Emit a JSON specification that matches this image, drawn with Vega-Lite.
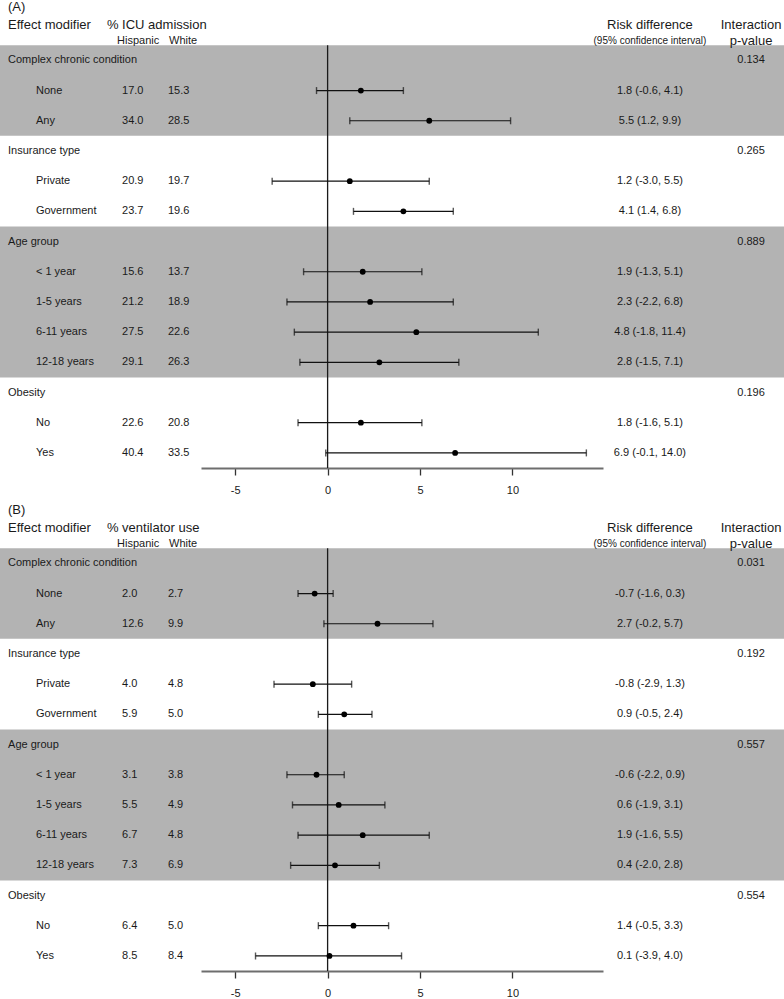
{
  "$schema": "https://vega.github.io/schema/vega-lite/v6.json",
  "padding": 0,
  "background": "white",
  "config": {
    "font": "Liberation Sans",
    "view": {"stroke": null},
    "text": {"color": "#1a1a1a", "fontSize": 11, "baseline": "middle"},
    "axis": {"grid": false}
  },
  "data": {
    "values": [
      {"panel": "A", "kind": "head", "tag": "(A)", "outcome": "% ICU admission"},
      {"panel": "A", "kind": "group", "g": 1, "r": 0, "label": "Complex chronic condition", "p": "0.134"},
      {"panel": "A", "kind": "sub", "g": 1, "r": 1, "label": "None", "hisp": "17.0", "white": "15.3", "est": 1.8, "lo": -0.6, "hi": 4.1, "rd": "1.8 (-0.6, 4.1)"},
      {"panel": "A", "kind": "sub", "g": 1, "r": 2, "label": "Any", "hisp": "34.0", "white": "28.5", "est": 5.5, "lo": 1.2, "hi": 9.9, "rd": "5.5 (1.2, 9.9)"},
      {"panel": "A", "kind": "group", "g": 2, "r": 3, "label": "Insurance type", "p": "0.265"},
      {"panel": "A", "kind": "sub", "g": 2, "r": 4, "label": "Private", "hisp": "20.9", "white": "19.7", "est": 1.2, "lo": -3.0, "hi": 5.5, "rd": "1.2 (-3.0, 5.5)"},
      {"panel": "A", "kind": "sub", "g": 2, "r": 5, "label": "Government", "hisp": "23.7", "white": "19.6", "est": 4.1, "lo": 1.4, "hi": 6.8, "rd": "4.1 (1.4, 6.8)"},
      {"panel": "A", "kind": "group", "g": 3, "r": 6, "label": "Age group", "p": "0.889"},
      {"panel": "A", "kind": "sub", "g": 3, "r": 7, "label": "< 1 year", "hisp": "15.6", "white": "13.7", "est": 1.9, "lo": -1.3, "hi": 5.1, "rd": "1.9 (-1.3, 5.1)"},
      {"panel": "A", "kind": "sub", "g": 3, "r": 8, "label": "1-5 years", "hisp": "21.2", "white": "18.9", "est": 2.3, "lo": -2.2, "hi": 6.8, "rd": "2.3 (-2.2, 6.8)"},
      {"panel": "A", "kind": "sub", "g": 3, "r": 9, "label": "6-11 years", "hisp": "27.5", "white": "22.6", "est": 4.8, "lo": -1.8, "hi": 11.4, "rd": "4.8 (-1.8, 11.4)"},
      {"panel": "A", "kind": "sub", "g": 3, "r": 10, "label": "12-18 years", "hisp": "29.1", "white": "26.3", "est": 2.8, "lo": -1.5, "hi": 7.1, "rd": "2.8 (-1.5, 7.1)"},
      {"panel": "A", "kind": "group", "g": 4, "r": 11, "label": "Obesity", "p": "0.196"},
      {"panel": "A", "kind": "sub", "g": 4, "r": 12, "label": "No", "hisp": "22.6", "white": "20.8", "est": 1.8, "lo": -1.6, "hi": 5.1, "rd": "1.8 (-1.6, 5.1)"},
      {"panel": "A", "kind": "sub", "g": 4, "r": 13, "label": "Yes", "hisp": "40.4", "white": "33.5", "est": 6.9, "lo": -0.1, "hi": 14.0, "rd": "6.9 (-0.1, 14.0)"},
      {"panel": "B", "kind": "head", "tag": "(B)", "outcome": "% ventilator use"},
      {"panel": "B", "kind": "group", "g": 1, "r": 0, "label": "Complex chronic condition", "p": "0.031"},
      {"panel": "B", "kind": "sub", "g": 1, "r": 1, "label": "None", "hisp": "2.0", "white": "2.7", "est": -0.7, "lo": -1.6, "hi": 0.3, "rd": "-0.7 (-1.6, 0.3)"},
      {"panel": "B", "kind": "sub", "g": 1, "r": 2, "label": "Any", "hisp": "12.6", "white": "9.9", "est": 2.7, "lo": -0.2, "hi": 5.7, "rd": "2.7 (-0.2, 5.7)"},
      {"panel": "B", "kind": "group", "g": 2, "r": 3, "label": "Insurance type", "p": "0.192"},
      {"panel": "B", "kind": "sub", "g": 2, "r": 4, "label": "Private", "hisp": "4.0", "white": "4.8", "est": -0.8, "lo": -2.9, "hi": 1.3, "rd": "-0.8 (-2.9, 1.3)"},
      {"panel": "B", "kind": "sub", "g": 2, "r": 5, "label": "Government", "hisp": "5.9", "white": "5.0", "est": 0.9, "lo": -0.5, "hi": 2.4, "rd": "0.9 (-0.5, 2.4)"},
      {"panel": "B", "kind": "group", "g": 3, "r": 6, "label": "Age group", "p": "0.557"},
      {"panel": "B", "kind": "sub", "g": 3, "r": 7, "label": "< 1 year", "hisp": "3.1", "white": "3.8", "est": -0.6, "lo": -2.2, "hi": 0.9, "rd": "-0.6 (-2.2, 0.9)"},
      {"panel": "B", "kind": "sub", "g": 3, "r": 8, "label": "1-5 years", "hisp": "5.5", "white": "4.9", "est": 0.6, "lo": -1.9, "hi": 3.1, "rd": "0.6 (-1.9, 3.1)"},
      {"panel": "B", "kind": "sub", "g": 3, "r": 9, "label": "6-11 years", "hisp": "6.7", "white": "4.8", "est": 1.9, "lo": -1.6, "hi": 5.5, "rd": "1.9 (-1.6, 5.5)"},
      {"panel": "B", "kind": "sub", "g": 3, "r": 10, "label": "12-18 years", "hisp": "7.3", "white": "6.9", "est": 0.4, "lo": -2.0, "hi": 2.8, "rd": "0.4 (-2.0, 2.8)"},
      {"panel": "B", "kind": "group", "g": 4, "r": 11, "label": "Obesity", "p": "0.554"},
      {"panel": "B", "kind": "sub", "g": 4, "r": 12, "label": "No", "hisp": "6.4", "white": "5.0", "est": 1.4, "lo": -0.5, "hi": 3.3, "rd": "1.4 (-0.5, 3.3)"},
      {"panel": "B", "kind": "sub", "g": 4, "r": 13, "label": "Yes", "hisp": "8.5", "white": "8.4", "est": 0.1, "lo": -3.9, "hi": 4.0, "rd": "0.1 (-3.9, 4.0)"}
    ]
  },
  "facet": {"row": {"field": "panel", "type": "nominal", "header": null}},
  "spacing": {"row": 8},
  "resolve": {"axis": {"x": "independent"}},
  "spec": {
    "width": 784,
    "height": 468,
    "layer": [
      {
        "transform": [
          {"filter": "datum.kind == 'group' || datum.kind == 'sub'"},
          {"filter": "datum.g % 2 == 1"},
          {"aggregate": [{"op": "min", "field": "r", "as": "r0"}, {"op": "max", "field": "r", "as": "r1"}], "groupby": ["panel", "g"]},
          {"calculate": "datum.r0 - 0.5", "as": "top"},
          {"calculate": "datum.r1 + 0.5", "as": "bot"}
        ],
        "mark": {"type": "rect", "color": "#b3b3b3"},
        "encoding": {
          "y": {"field": "top", "type": "quantitative", "scale": {"domain": [-2, 13.5], "reverse": true, "nice": false, "zero": false}, "axis": null},
          "y2": {"field": "bot"}
        }
      },
      {
        "transform": [{"filter": "datum.kind == 'head'"}],
        "mark": {"type": "rule", "color": "#1a1a1a", "strokeWidth": 1.3},
        "encoding": {
          "x": {"datum": 0, "type": "quantitative", "scale": {"domain": [-6.85, 14.9], "range": [201, 603], "nice": false, "zero": false}, "axis": {"values": [-5, 0, 5, 10], "title": null, "domainColor": "#6e6e6e", "domainWidth": 2, "tickColor": "#333333", "tickWidth": 1.3, "tickSize": 7, "labelFontSize": 11, "labelColor": "#1a1a1a", "labelPadding": 9, "labelFlush": false, "labelExpr": "datum.value + ''"}},
          "y": {"datum": -0.5, "type": "quantitative", "axis": null},
          "y2": {"datum": 13.5}
        }
      },
      {
        "transform": [{"filter": "datum.kind == 'sub'"}],
        "mark": {"type": "rule", "color": "#111111", "strokeWidth": 1.2},
        "encoding": {
          "x": {"field": "lo", "type": "quantitative"},
          "x2": {"field": "hi"},
          "y": {"field": "r", "type": "quantitative", "axis": null}
        }
      },
      {
        "transform": [{"filter": "datum.kind == 'sub'"}],
        "mark": {"type": "tick", "orient": "vertical", "color": "#111111", "size": 7, "thickness": 1.4},
        "encoding": {
          "x": {"field": "lo", "type": "quantitative"},
          "y": {"field": "r", "type": "quantitative", "axis": null}
        }
      },
      {
        "transform": [{"filter": "datum.kind == 'sub'"}],
        "mark": {"type": "tick", "orient": "vertical", "color": "#111111", "size": 7, "thickness": 1.4},
        "encoding": {
          "x": {"field": "hi", "type": "quantitative"},
          "y": {"field": "r", "type": "quantitative", "axis": null}
        }
      },
      {
        "transform": [{"filter": "datum.kind == 'sub'"}],
        "mark": {"type": "point", "filled": true, "color": "#000000", "size": 34, "opacity": 1},
        "encoding": {
          "x": {"field": "est", "type": "quantitative"},
          "y": {"field": "r", "type": "quantitative", "axis": null}
        }
      },
      {
        "transform": [{"filter": "datum.kind == 'group'"}],
        "mark": {"type": "text", "align": "left"},
        "encoding": {
          "x": {"datum": -17.29, "type": "quantitative"},
          "y": {"field": "r", "type": "quantitative", "axis": null},
          "text": {"field": "label"}
        }
      },
      {
        "transform": [{"filter": "datum.kind == 'group'"}],
        "mark": {"type": "text", "align": "center"},
        "encoding": {
          "x": {"datum": 22.91, "type": "quantitative"},
          "y": {"field": "r", "type": "quantitative", "axis": null},
          "text": {"field": "p"}
        }
      },
      {
        "transform": [{"filter": "datum.kind == 'sub'"}],
        "mark": {"type": "text", "align": "left"},
        "encoding": {
          "x": {"datum": -15.78, "type": "quantitative"},
          "y": {"field": "r", "type": "quantitative", "axis": null},
          "text": {"field": "label"}
        }
      },
      {
        "transform": [{"filter": "datum.kind == 'sub'"}],
        "mark": {"type": "text", "align": "left"},
        "encoding": {
          "x": {"datum": -11.12, "type": "quantitative"},
          "y": {"field": "r", "type": "quantitative", "axis": null},
          "text": {"field": "hisp"}
        }
      },
      {
        "transform": [{"filter": "datum.kind == 'sub'"}],
        "mark": {"type": "text", "align": "left"},
        "encoding": {
          "x": {"datum": -8.64, "type": "quantitative"},
          "y": {"field": "r", "type": "quantitative", "axis": null},
          "text": {"field": "white"}
        }
      },
      {
        "transform": [{"filter": "datum.kind == 'sub'"}],
        "mark": {"type": "text", "align": "center"},
        "encoding": {
          "x": {"datum": 17.44, "type": "quantitative"},
          "y": {"field": "r", "type": "quantitative", "axis": null},
          "text": {"field": "rd"}
        }
      },
      {
        "transform": [{"filter": "datum.kind == 'head'"}],
        "mark": {"type": "text", "align": "left", "fontSize": 13},
        "encoding": {
          "x": {"datum": -17.29, "type": "quantitative"},
          "y": {"datum": -1.758, "type": "quantitative", "axis": null},
          "text": {"field": "tag"}
        }
      },
      {
        "transform": [{"filter": "datum.kind == 'head'"}],
        "mark": {"type": "text", "align": "left", "fontSize": 13},
        "encoding": {
          "x": {"datum": -17.29, "type": "quantitative"},
          "y": {"datum": -1.172, "type": "quantitative", "axis": null},
          "text": {"value": "Effect modifier"}
        }
      },
      {
        "transform": [{"filter": "datum.kind == 'head'"}],
        "mark": {"type": "text", "align": "left", "fontSize": 13},
        "encoding": {
          "x": {"datum": -11.94, "type": "quantitative"},
          "y": {"datum": -1.172, "type": "quantitative", "axis": null},
          "text": {"field": "outcome"}
        }
      },
      {
        "transform": [{"filter": "datum.kind == 'head'"}],
        "mark": {"type": "text", "align": "left", "fontSize": 11},
        "encoding": {
          "x": {"datum": -11.39, "type": "quantitative"},
          "y": {"datum": -0.658, "type": "quantitative", "axis": null},
          "text": {"value": "Hispanic"}
        }
      },
      {
        "transform": [{"filter": "datum.kind == 'head'"}],
        "mark": {"type": "text", "align": "left", "fontSize": 11},
        "encoding": {
          "x": {"datum": -8.58, "type": "quantitative"},
          "y": {"datum": -0.658, "type": "quantitative", "axis": null},
          "text": {"value": "White"}
        }
      },
      {
        "transform": [{"filter": "datum.kind == 'head'"}],
        "mark": {"type": "text", "align": "center", "fontSize": 13},
        "encoding": {
          "x": {"datum": 17.44, "type": "quantitative"},
          "y": {"datum": -1.172, "type": "quantitative", "axis": null},
          "text": {"value": "Risk difference"}
        }
      },
      {
        "transform": [{"filter": "datum.kind == 'head'"}],
        "mark": {"type": "text", "align": "center", "fontSize": 10},
        "encoding": {
          "x": {"datum": 17.44, "type": "quantitative"},
          "y": {"datum": -0.658, "type": "quantitative", "axis": null},
          "text": {"value": "(95% confidence interval)"}
        }
      },
      {
        "transform": [{"filter": "datum.kind == 'head'"}],
        "mark": {"type": "text", "align": "center", "fontSize": 13},
        "encoding": {
          "x": {"datum": 22.91, "type": "quantitative"},
          "y": {"datum": -1.172, "type": "quantitative", "axis": null},
          "text": {"value": "Interaction"}
        }
      },
      {
        "transform": [{"filter": "datum.kind == 'head'"}],
        "mark": {"type": "text", "align": "center", "fontSize": 13},
        "encoding": {
          "x": {"datum": 22.91, "type": "quantitative"},
          "y": {"datum": -0.658, "type": "quantitative", "axis": null},
          "text": {"value": "p-value"}
        }
      }
    ]
  }
}
